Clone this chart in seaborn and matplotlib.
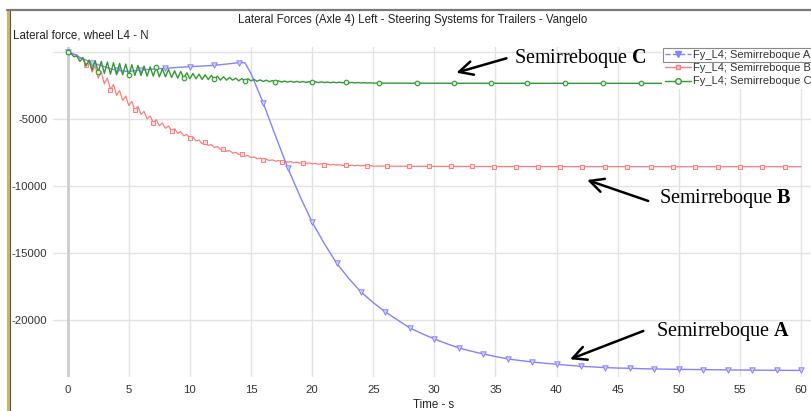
import numpy as np
import pandas as pd
import matplotlib
matplotlib.use("Agg")
import matplotlib.pyplot as plt
from matplotlib.lines import Line2D
from matplotlib.patches import Rectangle
import seaborn as sns

# ---------------------------------------------------------------- data
title = "Lateral Forces (Axle 4) Left - Steering Systems for Trailers - Vangelo"
y_title = "Lateral force, wheel L4 - N"
x_title = "Time - s"
series_names = ["Fy_L4; Semirreboque A", "Fy_L4; Semirreboque B", "Fy_L4; Semirreboque C"]

x_ticks = [0, 5, 10, 15, 20, 25, 30, 35, 40, 45, 50, 55, 60]
y_ticks = [-20000, -15000, -10000, -5000, 0]
y_tick_labels = ["-20000", "-15000", "-10000", "-5000", ""]

# Semirreboque A
time_a = [0, 0.5, 1, 1.5, 2, 2.5, 3, 3.5, 4, 4.5, 5, 6, 7, 8, 9, 10, 11, 12, 13,
          14, 14.5, 15] + list(range(16, 61))
force_a = [0, -150, -400, -600, -800, -950, -1100, -1250, -1350, -1420, -1450,
           -1340, -1280, -1216, -1150, -1094, -1050, -995, -900, -796, -800, -1600,
           -3800, -6250, -8630, -10750, -12690, -14300, -15750, -16900, -17910,
           -18700, -19400, -20000, -20590, -21020, -21410, -21760, -22080, -22320,
           -22530, -22720, -22900, -23020, -23130, -23220, -23300, -23380, -23450,
           -23500, -23550, -23580, -23600, -23630, -23650, -23665, -23680, -23690,
           -23700, -23710, -23720, -23730, -23740, -23745, -23750, -23755, -23760]
marks_a = list(range(0, 61, 2))

# oscillating start of B and C: samples every 0.25 s from 0.25 s to 25 s,
# upper turning points at 0.25, 0.75, ... and lower ones at 0.5, 1.0, ...
osc_time = list(np.arange(0.25, 25.01, 0.25))

# Semirreboque B
peaks_b = [-50, -200, -400, -650, -1020, -1480, -1950, -2430, -2880, -3300,
           -3690, -4060, -4430, -4770, -5055, -5300, -5515, -5725, -5935, -6145,
           -6355, -6562, -6745, -6900, -7058, -7213, -7358, -7488, -7612, -7729,
           -7832, -7919, -7992, -8049, -8096, -8138, -8180, -8217, -8248, -8279,
           -8310, -8341, -8367, -8388, -8409, -8428, -8443, -8457, -8468, -8479]
troughs_b = [-190, -500, -1000, -1500, -1950, -2380, -2800, -3230, -3610, -3990,
             -4320, -4650, -4985, -5270, -5505, -5690, -5880, -6070, -6260, -6450,
             -6640, -6835, -6978, -7120, -7265, -7410, -7535, -7650, -7767, -7875,
             -7962, -8040, -8097, -8145, -8183, -8220, -8259, -8288, -8317, -8345,
             -8374, -8403, -8422, -8441, -8460, -8474, -8488, -8497, -8506, -8515]
tail_time_b = [26.1, 27.9, 29.6, 31.4, 33.1, 34.9, 36.7, 38.5, 40.3, 42.1, 44.0,
               45.8, 47.7, 49.5, 51.3, 53.2, 55.0, 56.8, 58.7, 60.0]
tail_force_b = [-8520, -8528, -8535, -8540, -8543, -8546, -8548, -8550, -8552,
                -8553, -8554, -8555, -8556, -8557, -8558, -8558, -8559, -8559,
                -8560, -8560]
marks_b = [0, 1.5, 3.5, 5.5, 7.0, 8.5, 10.0, 11.25, 12.75, 14.25, 16.0, 17.5,
           19.25, 21.0, 22.75, 24.5] + tail_time_b[:-1]

# Semirreboque C
peaks_c = [-100, -300, -450, -600, -650, -700, -750, -800, -850, -900,
           -950, -1000, -1050, -1100, -1150, -1250, -1300, -1400, -1450, -1550,
           -1600, -1650, -1700, -1750, -1800, -1850, -1900, -1950, -1980, -2000,
           -2050, -2080, -2100, -2130, -2150, -2170, -2180, -2190, -2200, -2210,
           -2220, -2230, -2240, -2250, -2255, -2260, -2270, -2280, -2290, -2300]
troughs_c = [-350, -700, -1050, -1350, -1500, -1600, -1650, -1700, -1700, -1750,
             -1750, -1750, -1800, -1800, -1850, -1850, -1900, -1950, -1950, -2000,
             -2000, -2050, -2050, -2050, -2100, -2100, -2100, -2150, -2150, -2150,
             -2180, -2200, -2220, -2230, -2240, -2250, -2260, -2260, -2270, -2270,
             -2280, -2280, -2290, -2290, -2295, -2300, -2305, -2310, -2315, -2320]
tail_time_c = [25.5, 28.6, 31.6, 34.6, 37.6, 40.7, 43.8, 46.9, 50.0, 53.1, 56.2,
               59.3, 60.0]
tail_force_c = [-2320, -2328, -2332, -2334, -2335, -2336, -2336, -2337, -2337,
                -2337, -2338, -2338, -2338]
marks_c = [0, 2.5, 5.0, 7.25, 9.5, 12.0, 14.5, 17.0, 20.0, 22.75] + tail_time_c[:-1]


def build_frame(times, forces, marks):
    df = pd.DataFrame({"t": np.asarray(times, float), "f": np.asarray(forces, float)})
    df["mark"] = np.isin(np.round(df["t"], 2), np.round(marks, 2))
    return df


def interleave(upper, lower):
    return list(np.column_stack([upper, lower]).ravel())


df_a = build_frame(time_a, force_a, marks_a)
df_b = build_frame([0] + osc_time + tail_time_b,
                   [0] + interleave(peaks_b, troughs_b) + tail_force_b, marks_b)
df_c = build_frame([0] + osc_time + tail_time_c,
                   [0] + interleave(peaks_c, troughs_c) + tail_force_c, marks_c)

# ---------------------------------------------------------------- style
sns.set_style("white")
plt.rcParams["font.family"] = ["Liberation Sans", "DejaVu Sans"]
plt.rcParams["mathtext.fontset"] = "custom"
plt.rcParams["mathtext.rm"] = "Liberation Serif"
plt.rcParams["mathtext.bf"] = "Liberation Serif:bold"

W, H = 812, 411
fig = plt.figure(figsize=(W / 100, H / 100), dpi=100)
ax = fig.add_axes([53 / W, 1 - 377 / H, 1 - 53 / W, (377 - 47) / H])

blue, red, green = "#8383ff", "#ff7c7c", "#329a32"
text_col = "#333333"

# grid
for xv in x_ticks:
    ax.axvline(xv, color="#e3e3e3", lw=1.0, zorder=0)
for yv in y_ticks:
    ax.axhline(yv, color="#e3e3e3", lw=1.0, zorder=0)
ax.axvline(0, color="#cdcdcd", lw=2.0, zorder=0.5)

# lines
sns.lineplot(data=df_b, x="t", y="f", color=red, lw=0.9, sort=False,
             estimator=None, ax=ax, zorder=2)
sns.lineplot(data=df_a, x="t", y="f", color=blue, lw=1.0, sort=False,
             estimator=None, ax=ax, zorder=3)
sns.lineplot(data=df_c, x="t", y="f", color=green, lw=1.0, sort=False,
             estimator=None, ax=ax, zorder=4)

# markers
sns.scatterplot(data=df_b[df_b["mark"]], x="t", y="f", marker="s", s=9,
                facecolor="#ffe0e0", edgecolor=red, linewidth=0.7, ax=ax, zorder=2.5)
sns.scatterplot(data=df_a[df_a["mark"]], x="t", y="f", marker="v", s=15,
                facecolor="#d0d0ff", edgecolor=blue, linewidth=0.7, ax=ax, zorder=3.5)
sns.scatterplot(data=df_c[df_c["mark"]], x="t", y="f", marker="o", s=11,
                facecolor="#dcf0dc", edgecolor=green, linewidth=0.8, ax=ax, zorder=4.5)

ax.set_xlim(-1.2, 60.9)
ax.set_ylim(-24250, 373)
ax.set_xticks(x_ticks)
ax.set_xticklabels([str(v) for v in x_ticks])
ax.set_yticks(y_ticks)
ax.set_yticklabels(y_tick_labels)
ax.tick_params(axis="both", length=0, labelsize=8.2, colors=text_col)
ax.tick_params(axis="x", pad=5.5)
ax.tick_params(axis="y", pad=4)
ax.set_xlabel("")
ax.set_ylabel("")
for sp in ax.spines.values():
    sp.set_visible(False)

# titles
fig.text(413 / W, 1 - 20 / H, title, ha="center", va="center", fontsize=8.3, color="#222222")
fig.text(13 / W, 1 - 36 / H, y_title, ha="left", va="center", fontsize=8.3, color="#222222")
fig.text(413 / W, 1 - 405 / H, x_title, ha="left", va="center", fontsize=8.3, color="#222222")

# window frame
fig.add_artist(Rectangle((7 / W, 0), 3 / W, 1 - 10 / H, transform=fig.transFigure,
                         facecolor="#d2b26a", edgecolor="none"))
fig.add_artist(Line2D([10 / W, 10 / W], [0, 1 - 10 / H], transform=fig.transFigure,
                      color="#555555", lw=0.8))
fig.add_artist(Line2D([7 / W, 1], [1 - 10 / H, 1 - 10 / H], transform=fig.transFigure,
                      color="#7a7a7a", lw=1.6))

# legend
handles = [
    Line2D([], [], color=blue, lw=1, ls="--", marker="v", ms=4.5,
           markerfacecolor=blue, markeredgecolor=blue),
    Line2D([], [], color=red, lw=1, marker="s", ms=3.5,
           markerfacecolor="#ffd8d8", markeredgecolor=red),
    Line2D([], [], color=green, lw=1, marker="o", ms=4,
           markerfacecolor="white", markeredgecolor=green),
]
leg = ax.legend(handles, series_names, loc="upper left",
                bbox_to_anchor=(662 / W, 1 - 47 / H), bbox_transform=fig.transFigure,
                frameon=True, facecolor="white", edgecolor="none", framealpha=1,
                fontsize=8, handlelength=2.4, handletextpad=0.12, labelspacing=0.3,
                borderpad=0.25, borderaxespad=0, fancybox=False)
for txt in leg.get_texts():
    txt.set_color(text_col)
leg.set_zorder(10)
fig.add_artist(Rectangle((663 / W, 1 - 62 / H), (W - 663) / W, 14 / H,
                         transform=fig.transFigure, facecolor="none",
                         edgecolor="#8a8a8a", lw=0.8, zorder=11))

# callouts
arrow = dict(arrowstyle="->,head_length=0.7,head_width=0.35", color="black",
             lw=1.8, mutation_scale=14, shrinkA=0, shrinkB=0)
serif = dict(fontsize=14.5, color="black", va="center", ha="left",
             family="Liberation Serif")
ax.annotate("", xy=(31.8, -1545), xytext=(35.9, -470), arrowprops=arrow)
ax.text(36.5, -450, r"Semirreboque $\mathbf{C}$", **serif)
ax.annotate("", xy=(42.5, -9550), xytext=(47.5, -11115), arrowprops=arrow)
ax.text(48.4, -10966, r"Semirreboque $\mathbf{B}$", clip_on=False, **serif)
ax.annotate("", xy=(41.1, -22925), xytext=(47.1, -20815), arrowprops=arrow)
ax.text(48.1, -20866, r"Semirreboque $\mathbf{A}$", clip_on=False, **serif)

fig.savefig("out.png", dpi=100)
